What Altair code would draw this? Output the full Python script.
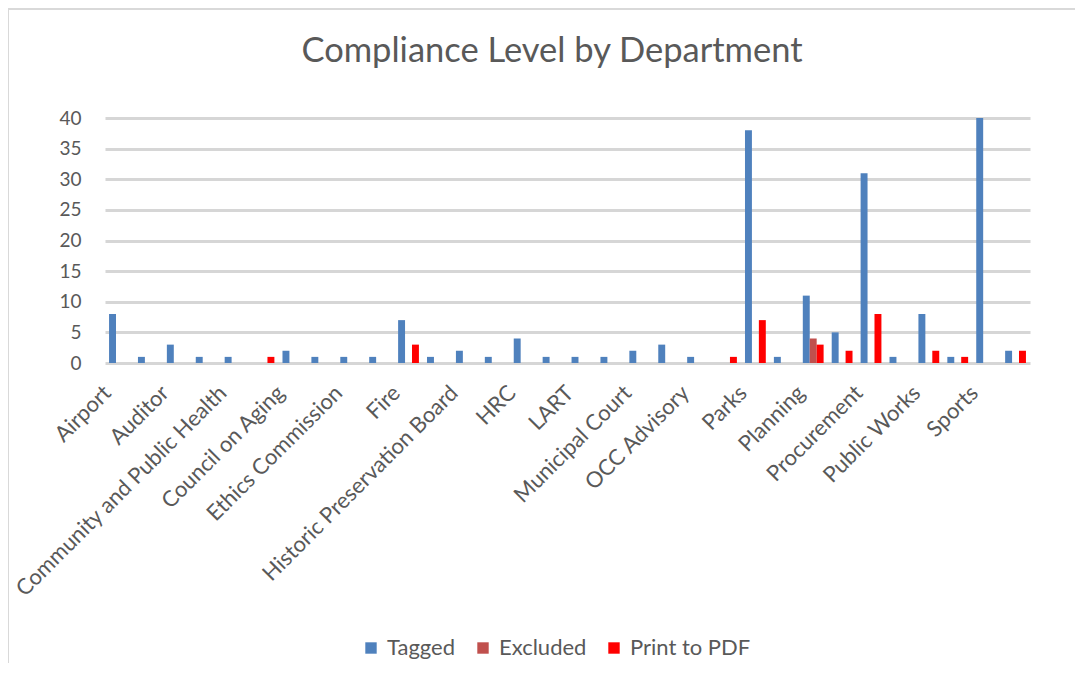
import altair as alt
import pandas as pd

# Categories (only every other one is labelled in the original chart)
departments = [
    "Airport", "_1", "Auditor", "_3", "Community and Public Health", "_5",
    "Council on Aging", "_7", "Ethics Commission", "_9", "Fire", "_11",
    "Historic Preservation Board", "_13", "HRC", "_15", "LART", "_17",
    "Municipal Court", "_19", "OCC Advisory", "_21", "Parks", "_23",
    "Planning", "_25", "Procurement", "_27", "Public Works", "_29",
    "Sports", "_31",
]
tagged = [8, 1, 3, 1, 1, 0, 2, 1, 1, 1, 7, 1, 2, 1, 4, 1, 1, 1, 2, 3, 1, 0,
          38, 1, 11, 5, 31, 1, 8, 1, 40, 2]
excluded = [0] * 24 + [4] + [0] * 7
print_pdf = [0, 0, 0, 0, 0, 1, 0, 0, 0, 0, 3, 0, 0, 0, 0, 0, 0, 0, 0, 0, 0, 1,
             7, 0, 3, 2, 8, 0, 2, 1, 0, 2]
series = ["Tagged", "Excluded", "Print to PDF"]
colors = ["#4F81BD", "#C0504D", "#FF0000"]
chart_title = "Compliance Level by Department"

rows = []
for i, d in enumerate(departments):
    for s, vals in zip(series, [tagged, excluded, print_pdf]):
        rows.append({"Department": d, "Series": s, "Value": vals[i]})
df = pd.DataFrame(rows)

W, H = 925, 245
PL, PT, PR, PB = 97, 110, 45, 300
FONT = "Lato"
GREY = "#595959"

bars = alt.Chart(df).transform_filter("datum.Value > 0").mark_bar().encode(
    x=alt.X("Department:N", sort=departments,
            scale=alt.Scale(paddingInner=0.28, paddingOuter=0.14),
            axis=alt.Axis(title=None, labelAngle=-45, labelAlign="right",
                          labelBaseline="middle", labelFontSize=22,
                          labelColor=GREY, labelFont=FONT, labelPadding=26,
                          labelOffset=-12, labelLimit=500,
                          ticks=False, domain=False, labelOverlap=False,
                          labelExpr="indexof(datum.label, '_') == 0 ? '' : datum.label")),
    xOffset=alt.XOffset("Series:N", sort=series, scale=alt.Scale(domain=series)),
    y=alt.Y("Value:Q", scale=alt.Scale(domain=[0, 40]),
            axis=alt.Axis(title=None, values=list(range(0, 41, 5)), ticks=False,
                          domain=False, labelFontSize=19, labelColor=GREY,
                          labelFont=FONT, labelPadding=24, gridColor="#d6d6d6",
                          gridWidth=3)),
    color=alt.Color("Series:N", sort=series,
                    scale=alt.Scale(domain=series, range=colors),
                    legend=alt.Legend(title=None, orient="none", direction="horizontal",
                                      legendX=255, legendY=519, symbolType="square",
                                      symbolSize=130, symbolStrokeWidth=0,
                                      labelFontSize=22, labelColor=GREY,
                                      labelFont=FONT, columnPadding=16,
                                      labelOffset=5, symbolOpacity=1)),
)

one = pd.DataFrame({"k": [0]})
left_edge = alt.Chart(one).mark_rule(stroke="#d9d9d9", strokeWidth=2).encode(
    x=alt.value(-97), y=alt.value(-109), y2=alt.value(H + PB))
top_edge = alt.Chart(one).mark_rule(stroke="#d9d9d9", strokeWidth=2).encode(
    y=alt.value(-109), x=alt.value(-97), x2=alt.value(W + PR))
title = alt.Chart(one).mark_text(
    text=chart_title, fontSize=34.5, font=FONT, color=GREY, align="center",
    baseline="middle"
).encode(x=alt.value(447), y=alt.value(-66))

chart = alt.layer(left_edge, top_edge, title, bars).properties(
    width=W, height=H,
    autosize=alt.AutoSizeParams(type="none"),
    padding={"left": PL, "top": PT, "right": PR, "bottom": PB},
).configure_view(stroke=None)

chart.save("out.html", embed_options={"renderer": "svg", "actions": False})
